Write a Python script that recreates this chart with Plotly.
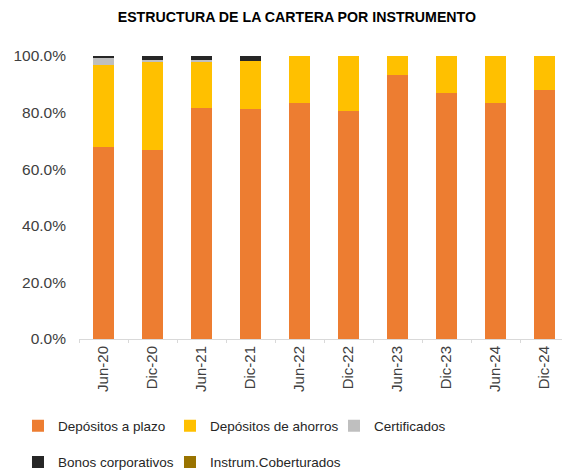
import plotly.graph_objects as go

# --- data ---
periods = ["Jun-20", "Dic-20", "Jun-21", "Dic-21", "Jun-22",
           "Dic-22", "Jun-23", "Dic-23", "Jun-24", "Dic-24"]
dep_plazo = [0.677, 0.668, 0.817, 0.813, 0.835, 0.805, 0.933, 0.870, 0.835, 0.880]
dep_ahorros = [0.290, 0.310, 0.161, 0.171, 0.165, 0.195, 0.067, 0.130, 0.165, 0.120]
certificados = [0.028, 0.008, 0.008, 0.0, 0.0, 0.0, 0.0, 0.0, 0.0, 0.0]
bonos = [0.005, 0.014, 0.014, 0.016, 0.0, 0.0, 0.0, 0.0, 0.0, 0.0]
instrum_cob = [0.0] * 10

names = ["Depósitos a plazo", "Depósitos de ahorros", "Certificados",
         "Bonos corporativos", "Instrum.Coberturados"]
values = [dep_plazo, dep_ahorros, certificados, bonos, instrum_cob]
colors = ["#ED7D31", "#FFC000", "#BFBFBF", "#262626", "#997300"]

# one legend per series so entries sit on the Excel-style grid
legend_keys = ["legend", "legend2", "legend3", "legend4", "legend5"]
legend_pos = [(-0.1245, -0.307), (0.1857, -0.307), (0.5204, -0.307),
              (-0.1245, -0.435), (0.1857, -0.435)]

fig = go.Figure()
for name, vals, color, leg in zip(names, values, colors, legend_keys):
    fig.add_trace(go.Bar(x=periods, y=vals, name=name, marker_color=color,
                         marker_line_width=0, legend=leg, showlegend=True))

font = "Liberation Sans, Arial, sans-serif"
legends = {}
for leg, (lx, ly) in zip(legend_keys, legend_pos):
    legends[leg] = dict(x=lx, y=ly, orientation="h", xanchor="left", yanchor="middle",
                        itemwidth=30, font=dict(size=13.5, color="#262626"),
                        bgcolor="rgba(0,0,0,0)")

# page body has an 8px margin, so the figure is sized 8px smaller
fig.update_layout(
    barmode="stack",
    bargap=0.59,
    showlegend=True,
    width=562, height=464,
    margin=dict(l=71, r=1, t=48, b=133, autoexpand=False),
    paper_bgcolor="white", plot_bgcolor="white",
    font=dict(family=font, size=14, color="#404040"),
    title=dict(text="<b>ESTRUCTURA DE LA CARTERA POR INSTRUMENTO</b>",
               x=0.514, xref="container", xanchor="center", y=0.9795, yanchor="middle",
               font=dict(size=14.2, color="black")),
    **legends,
)
fig.update_yaxes(range=[0, 1], tickformat=".1%", dtick=0.2, showgrid=False,
                 zeroline=False, showline=False, ticklabelstandoff=12,
                 tickfont=dict(size=15.5, color="#404040"))
fig.update_xaxes(tickangle=-90, showline=True, linecolor="#D9D9D9", linewidth=1,
                 ticks="outside", tickson="boundaries", ticklen=3, tickcolor="#D9D9D9",
                 tickfont=dict(size=15, color="#404040"))

fig.write_html("out.html")
